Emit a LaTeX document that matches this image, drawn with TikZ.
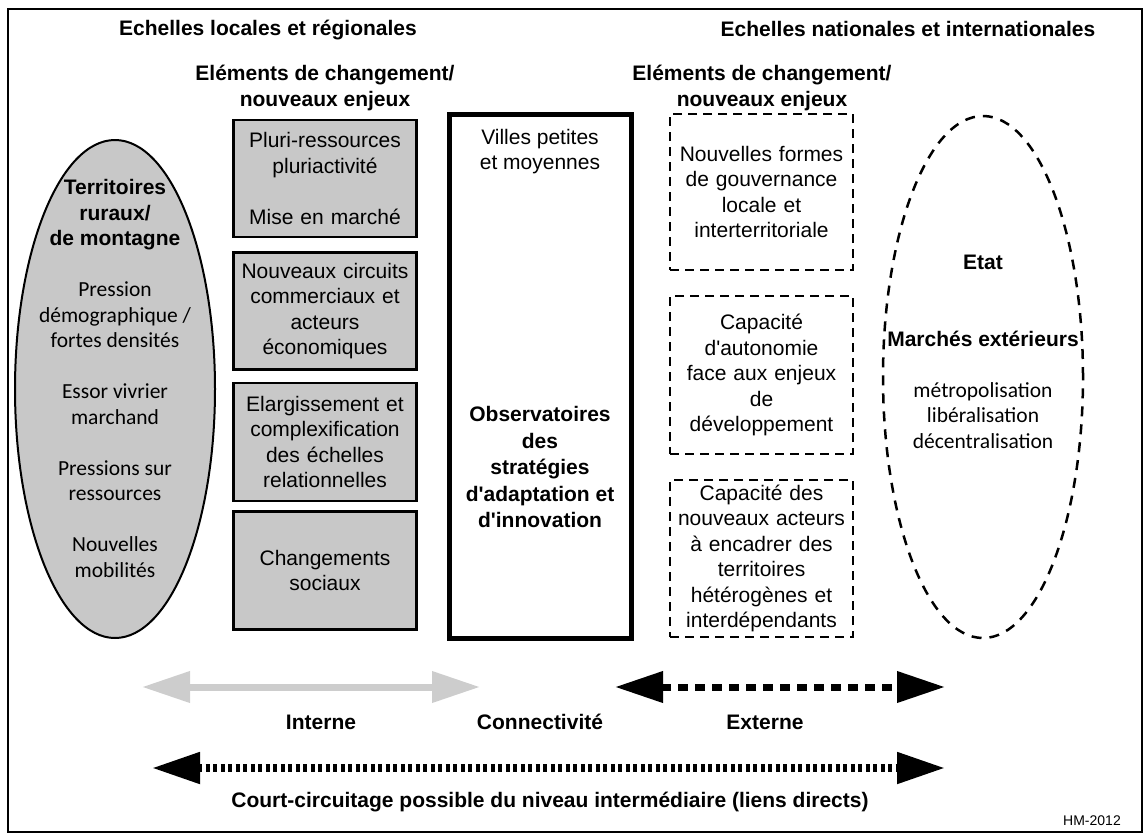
\documentclass[tikz,border=0pt]{standalone}
\usepackage{fontspec}
\setmainfont{Liberation Sans}
\newfontfamily\calib{Carlito}
\usetikzlibrary{positioning,shapes.geometric,arrows.meta}
\definecolor{boxgrey}{RGB}{200,200,200}
\definecolor{arrowgrey}{RGB}{205,205,205}
\newcommand{\apos}{\textquotesingle}
\newcommand{\calt}[1]{{\calib\fontsize{21.5}{25.5}\selectfont #1}}

\begin{document}
\begin{tikzpicture}[
    x=1pt,
    y=-1pt,
    font=\fontsize{21}{25.5}\selectfont,
    title node/.style={font=\fontsize{21}{25.5}\selectfont\bfseries, align=center},
    grey box/.style={draw, line width=2.5pt, fill=boxgrey, minimum width=183pt,
      minimum height=117pt, text width=174pt, align=center, inner sep=2pt},
    dash box/.style={draw, line width=2.5pt, dash pattern=on 9pt off 6pt, minimum width=183pt,
      minimum height=157pt, text width=174pt, align=center, inner sep=2pt},
    obs box/.style={draw, line width=5pt, minimum width=182pt, minimum height=524pt},
    big ellipse/.style={ellipse, draw, minimum width=200pt, minimum height=522pt, inner sep=0pt},
    big arrow/.style={line width=7pt, {Triangle[length=48pt,width=30pt]}-{Triangle[length=48pt,width=30pt]}}
    ]

    \useasboundingbox (0,0) rectangle (1143,833);
    \draw[line width=1.5pt] (8,9) rectangle (1142,832);

    \node[title node] (loc) at (268,30) {Echelles locales et régionales};
    \node[title node] (nat) at (908,29) {Echelles nationales et internationales};
    \node[title node] (enjl) at (325,88) {Eléments de changement/\\nouveaux enjeux};
    \node[title node] (enjr) at (762,88) {Eléments de changement/\\nouveaux enjeux};

    \node[big ellipse, fill=boxgrey, line width=2pt, minimum height=498pt] (rur) at (115,389) {};
    \node[align=center] (rurtxt) at (115,378.5) {\textbf{Territoires}\\\textbf{ruraux/}\\\textbf{de montagne}\\[\baselineskip]
      \calt{Pression}\\\calt{démographique /}\\\calt{fortes densités}\\[\baselineskip]
      \calt{Essor vivrier}\\\calt{marchand}\\[\baselineskip]
      \calt{Pressions sur}\\\calt{ressources}\\[\baselineskip]
      \calt{Nouvelles}\\\calt{mobilités}};

    \node[grey box] (g1) at (325,178.5) {Pluri-ressources\\pluriactivité\\[\baselineskip]Mise en marché};
    \node[grey box, below=13pt of g1] (g2) {Nouveaux circuits\\commerciaux et\\acteurs\\économiques};
    \node[grey box, below=11pt of g2, minimum height=118pt] (g3) {Elargissement et\\complexification\\des échelles\\relationnelles};
    \node[grey box, below=8pt of g3, minimum height=118pt] (g4) {Changements\\sociaux};

    \node[obs box] (obs) at (540,376) {};
    \node[align=center, below=14pt of obs.north] (villes) {Villes petites\\et moyennes};
    \node[title node, font=\fontsize{21}{26.5}\selectfont\bfseries] (strat) at (540,467)
      {Observatoires\\des\\stratégies\\d\apos adaptation et\\d\apos innovation};

    \node[dash box, minimum height=156pt] (d1) at (761.5,192) {Nouvelles formes\\de gouvernance\\locale et\\interterritoriale};
    \node[dash box, minimum height=158pt] (d2) at (761.5,375) {Capacité\\d\apos autonomie\\face aux enjeux\\de\\développement};
    \node[dash box] (d3) at (761.5,558.5) {Capacité des\\nouveaux acteurs\\à encadrer des\\territoires\\hétérogènes et\\interdépendants};

    \node[big ellipse, line width=2.5pt, dash pattern=on 10pt off 8pt] (etat) at (983,377) {};
    \node[align=center] (etattxt) at (983,352) {\textbf{Etat}\\[2\baselineskip]\textbf{Marchés extérieurs}\\[\baselineskip]
      \calt{métropolisation}\\\calt{libéralisation}\\\calt{décentralisation}};

    \coordinate (gl) at (142,687);
    \coordinate (gr) at (480,687);
    \coordinate (bl) at (615,687);
    \coordinate (br) at (945,687);
    \coordinate (cl) at (152,768);
    \coordinate (cr) at (945,768);
    \draw[big arrow, arrowgrey] (gl) -- (gr);
    \draw[big arrow, dash pattern=on 10pt off 7pt] (bl) -- (br);
    \draw[big arrow, line width=8pt, dash pattern=on 4pt off 3.5pt] (cl) -- (cr);

    \node[title node, anchor=base] (int) at (321,729.5) {Interne};
    \node[title node, anchor=base] (con) at (540,729.5) {Connectivité};
    \node[title node, anchor=base] (ext) at (765,729.5) {Externe};
    \node[title node] (court) at (550,802) {Court-circuitage possible du niveau intermédiaire (liens directs)};
    \node[font=\fontsize{14}{16}\selectfont] (hm) at (1092,821) {HM-2012};
  \end{tikzpicture}
\end{document}
